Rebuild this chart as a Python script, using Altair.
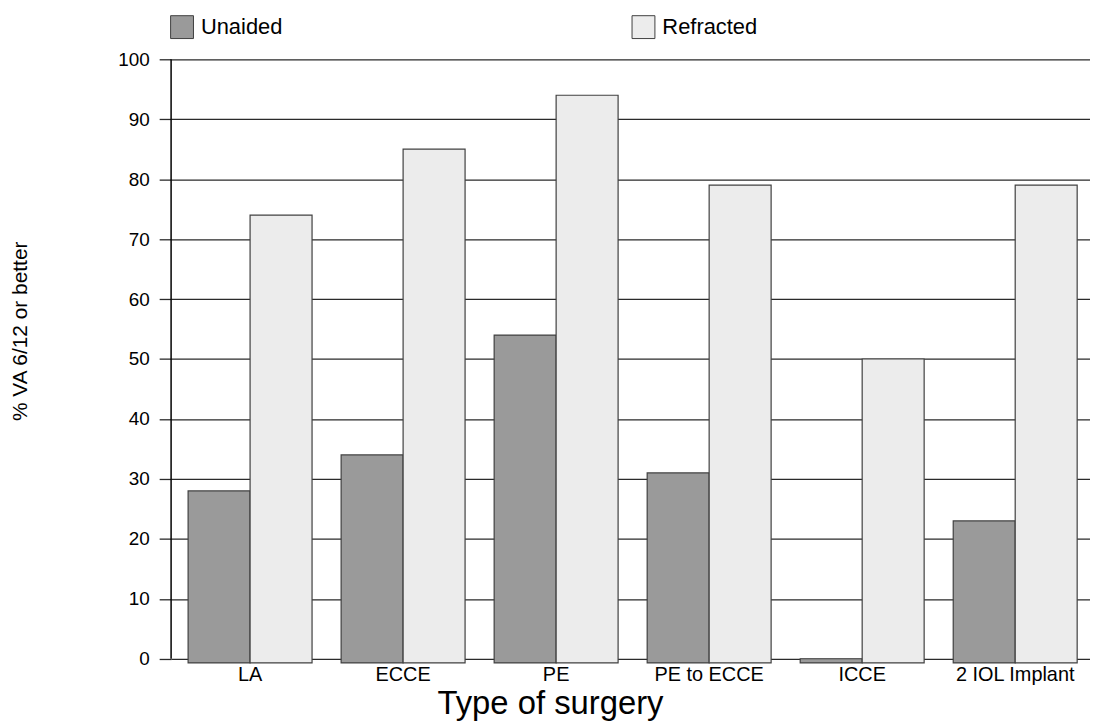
import altair as alt
import pandas as pd

categories = ["LA", "ECCE", "PE", "PE to ECCE", "ICCE", "2 IOL Implant"]
series = ["Unaided", "Refracted"]
unaided = [28, 34, 54, 31, 0, 23]
refracted = [74, 85, 94, 79, 50, 79]
y_ticks = [0, 10, 20, 30, 40, 50, 60, 70, 80, 90, 100]
y_floor = -0.7

rows = []
for c, u, r in zip(categories, unaided, refracted):
    rows.append({"Surgery": c, "Series": "Unaided", "Value": u, "Base": y_floor})
    rows.append({"Surgery": c, "Series": "Refracted", "Value": r, "Base": y_floor})
df = pd.DataFrame(rows)
axis_df = pd.DataFrame({"Value": [y_ticks[0]], "hi": [y_ticks[-1]]})

FONT = "Liberation Sans"

y_scale = alt.Scale(domain=[y_floor, 100], zero=False, nice=False)
y_axis = alt.Axis(
    values=y_ticks,
    title="% VA 6/12 or better",
    grid=True,
    gridColor="#2a2a2a",
    gridWidth=1.3,
    domain=False,
    tickSize=12,
    tickColor="#2a2a2a",
    tickWidth=1.3,
    labelFontSize=19,
    labelPadding=10,
    labelColor="black",
    titleFontSize=21,
    titleFontWeight="normal",
    titleColor="black",
    titleAngle=270,
    titleX=-145,
    titleY=273,
    titleAlign="center",
    titleBaseline="alphabetic",
)

bars = alt.Chart(df).mark_bar(stroke="#404040", strokeWidth=1.2).encode(
    x=alt.X(
        "Surgery:N",
        sort=categories,
        scale=alt.Scale(paddingInner=0.19, paddingOuter=0.0975, align=0.57),
        axis=alt.Axis(
            title="Type of surgery",
            labelAngle=0,
            ticks=False,
            domain=False,
            labelFontSize=20,
            labelPadding=2,
            labelColor="black",
            titleFontSize=33,
            titleFontWeight="normal",
            titleColor="black",
            titleX=381,
            titleY=51,
            titleAlign="center",
            titleBaseline="alphabetic",
        ),
    ),
    xOffset=alt.XOffset(
        "Series:N", sort=series, scale=alt.Scale(paddingInner=0, paddingOuter=0)
    ),
    y=alt.Y("Value:Q", scale=y_scale, axis=y_axis),
    y2="Base:Q",
    color=alt.Color(
        "Series:N",
        sort=series,
        scale=alt.Scale(domain=series, range=["#9a9a9a", "#ececec"]),
        legend=alt.Legend(
            title=None,
            orient="none",
            legendX=-1,
            legendY=-44.6,
            direction="horizontal",
            columns=2,
            columnPadding=349,
            symbolType="square",
            symbolSize=529,
            symbolStrokeColor="#404040",
            symbolStrokeWidth=1,
            symbolOpacity=1,
            labelFontSize=22,
            labelOffset=7,
            labelColor="black",
            padding=0,
        ),
    ),
)

yline = alt.Chart(axis_df).mark_rule(color="black", strokeWidth=1.5).encode(
    x=alt.value(0),
    y=alt.Y("Value:Q", scale=y_scale, axis=y_axis),
    y2="hi:Q",
)

chart = alt.layer(bars, yline).properties(
    width=924,
    height=607,
    autosize=alt.AutoSizeParams(type="none"),
    padding={"left": 164, "top": 49.6, "right": 0, "bottom": 59},
).configure(
    font=FONT,
    background="white",
).configure_view(stroke=None)

chart.save("out.html", embed_options={"renderer": "svg", "actions": False})
